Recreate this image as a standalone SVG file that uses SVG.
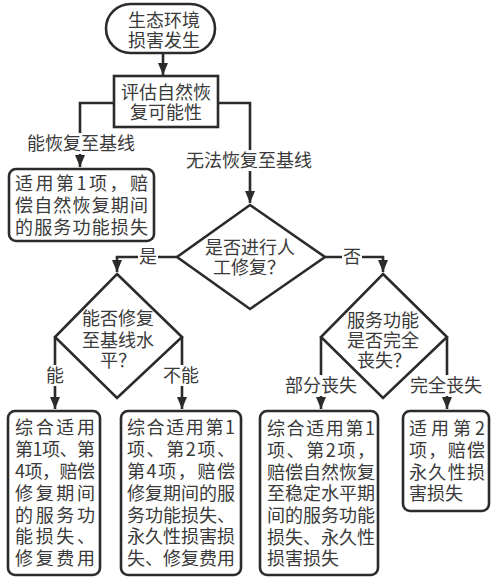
<svg xmlns="http://www.w3.org/2000/svg" width="495" height="578" viewBox="0 0 495 578">
<style>
.n{fill:#fff;stroke:#2b2b2b;stroke-width:2.6}
.t{font-family:"Noto Sans CJK SC","Noto Sans",sans-serif;font-size:18px;fill:#3a3a3a}
.m{text-anchor:middle}
.c{fill:none;stroke:#2b2b2b;stroke-width:2.6}
.lb{fill:#fff}
</style>
<defs>
<marker id="ah" markerUnits="userSpaceOnUse" viewBox="0 0 12 10" markerWidth="12" markerHeight="10" refX="12" refY="5" orient="auto">
<path d="M0,0 L12,5 L0,10 z" fill="#2b2b2b"/>
</marker>
</defs>
<rect width="495" height="578" fill="#fff"/>
<g id="connectors">
<path class="c" d="M163,53 V75" marker-end="url(#ah)"/>
<path class="c" d="M114,103 H80 V167" marker-end="url(#ah)"/>
<path class="c" d="M218,103 H250 V203" marker-end="url(#ah)"/>
<path class="c" d="M177,257 H117 V272" marker-end="url(#ah)"/>
<path class="c" d="M325,257 H383 V272" marker-end="url(#ah)"/>
<path class="c" d="M55,337 V409" marker-end="url(#ah)"/>
<path class="c" d="M182,337 V409" marker-end="url(#ah)"/>
<path class="c" d="M321,337 V409" marker-end="url(#ah)"/>
<path class="c" d="M447,337 V409" marker-end="url(#ah)"/>
</g>
<g id="labels">
<rect class="lb" x="24" y="133" width="114" height="21"/>
<text class="t m" x="81" y="150">能恢复至基线</text>
<rect class="lb" x="185" y="150" width="129" height="21"/>
<text class="t m" x="249" y="167">无法恢复至基线</text>
<rect class="lb" x="138" y="246" width="20" height="21"/>
<text class="t m" x="148" y="263">是</text>
<rect class="lb" x="342" y="246" width="20" height="21"/>
<text class="t m" x="352" y="263">否</text>
<rect class="lb" x="45" y="365" width="20" height="21"/>
<text class="t m" x="55" y="382">能</text>
<rect class="lb" x="162" y="365" width="38" height="21"/>
<text class="t m" x="181" y="382">不能</text>
<rect class="lb" x="284" y="375" width="74" height="21"/>
<text class="t m" x="321" y="392">部分丧失</text>
<rect class="lb" x="409" y="375" width="74" height="21"/>
<text class="t m" x="446" y="392">完全丧失</text>
</g>
<g id="start">
<rect class="n" x="106" y="4" width="109" height="49" rx="24.5" stroke-width="3"/>
<text class="t m" x="164" y="27">生态环境</text>
<text class="t m" x="164" y="47">损害发生</text>
</g>
<g id="assess">
<rect class="n" x="114" y="76" width="104" height="51" stroke-width="3.2"/>
<text class="t m" x="166" y="99">评估自然恢</text>
<text class="t m" x="166" y="119">复可能性</text>
</g>
<g id="box-natural">
<rect class="n" x="9" y="169" width="145" height="72" rx="7"/>
<text class="t" x="15" y="190" textLength="133" lengthAdjust="spacing">适用第1项，赔</text>
<text class="t" x="15" y="212" textLength="133" lengthAdjust="spacing">偿自然恢复期间</text>
<text class="t" x="15" y="234" textLength="133" lengthAdjust="spacing">的服务功能损失</text>
</g>
<g id="dec-manual">
<polygon class="n" points="250,205 325,257 250,309 177,257"/>
<text class="t" x="205" y="254">是否进行人</text>
<text class="t" x="213" y="274">工修复？</text>
</g>
<g id="dec-baseline">
<polygon class="n" points="117,274 182,337 117,398 55,337"/>
<text class="t" x="82" y="325">能否修复</text>
<text class="t" x="82" y="347">至基线水</text>
<text class="t" x="100" y="367">平？</text>
</g>
<g id="dec-service">
<polygon class="n" points="383,274 447,337 383,398 321,337"/>
<text class="t" x="347" y="327">服务功能</text>
<text class="t" x="347" y="347">是否完全</text>
<text class="t" x="357" y="367">丧失？</text>
</g>
<g id="box-1">
<rect class="n" x="8" y="411" width="92" height="164" rx="7"/>
<text class="t" x="15" y="434" textLength="80" lengthAdjust="spacing">综合适用</text>
<text class="t" x="15" y="456" textLength="80" lengthAdjust="spacing">第1项、第</text>
<text class="t" x="15" y="478" textLength="80" lengthAdjust="spacing">4项，赔偿</text>
<text class="t" x="15" y="500" textLength="80" lengthAdjust="spacing">修复期间</text>
<text class="t" x="15" y="522" textLength="80" lengthAdjust="spacing">的服务功</text>
<text class="t" x="15" y="543" textLength="80" lengthAdjust="spacing">能损失、</text>
<text class="t" x="15" y="565" textLength="80" lengthAdjust="spacing">修复费用</text>
</g>
<g id="box-2">
<rect class="n" x="121" y="411" width="120" height="164" rx="7"/>
<text class="t" x="127" y="434" textLength="108" lengthAdjust="spacing">综合适用第1</text>
<text class="t" x="127" y="456" textLength="108" lengthAdjust="spacing">项、第2项、</text>
<text class="t" x="127" y="478" textLength="108" lengthAdjust="spacing">第4项，赔偿</text>
<text class="t" x="127" y="500" textLength="108" lengthAdjust="spacing">修复期间的服</text>
<text class="t" x="127" y="522" textLength="108" lengthAdjust="spacing">务功能损失、</text>
<text class="t" x="127" y="543" textLength="108" lengthAdjust="spacing">永久性损害损</text>
<text class="t" x="127" y="565" textLength="108" lengthAdjust="spacing">失、修复费用</text>
</g>
<g id="box-3">
<rect class="n" x="260" y="411" width="118" height="164" rx="7"/>
<text class="t" x="267" y="435" textLength="108" lengthAdjust="spacing">综合适用第1</text>
<text class="t" x="267" y="457" textLength="108" lengthAdjust="spacing">项、第2项，</text>
<text class="t" x="267" y="479" textLength="108" lengthAdjust="spacing">赔偿自然恢复</text>
<text class="t" x="267" y="500" textLength="108" lengthAdjust="spacing">至稳定水平期</text>
<text class="t" x="267" y="522" textLength="108" lengthAdjust="spacing">间的服务功能</text>
<text class="t" x="267" y="544" textLength="108" lengthAdjust="spacing">损失、永久性</text>
<text class="t" x="267" y="565">损害损失</text>
</g>
<g id="box-4">
<rect class="n" x="403" y="411" width="86" height="100" rx="7"/>
<text class="t" x="409" y="435" textLength="76" lengthAdjust="spacing">适用第2</text>
<text class="t" x="409" y="457" textLength="76" lengthAdjust="spacing">项，赔偿</text>
<text class="t" x="409" y="479" textLength="76" lengthAdjust="spacing">永久性损</text>
<text class="t" x="409" y="500">害损失</text>
</g>
</svg>
